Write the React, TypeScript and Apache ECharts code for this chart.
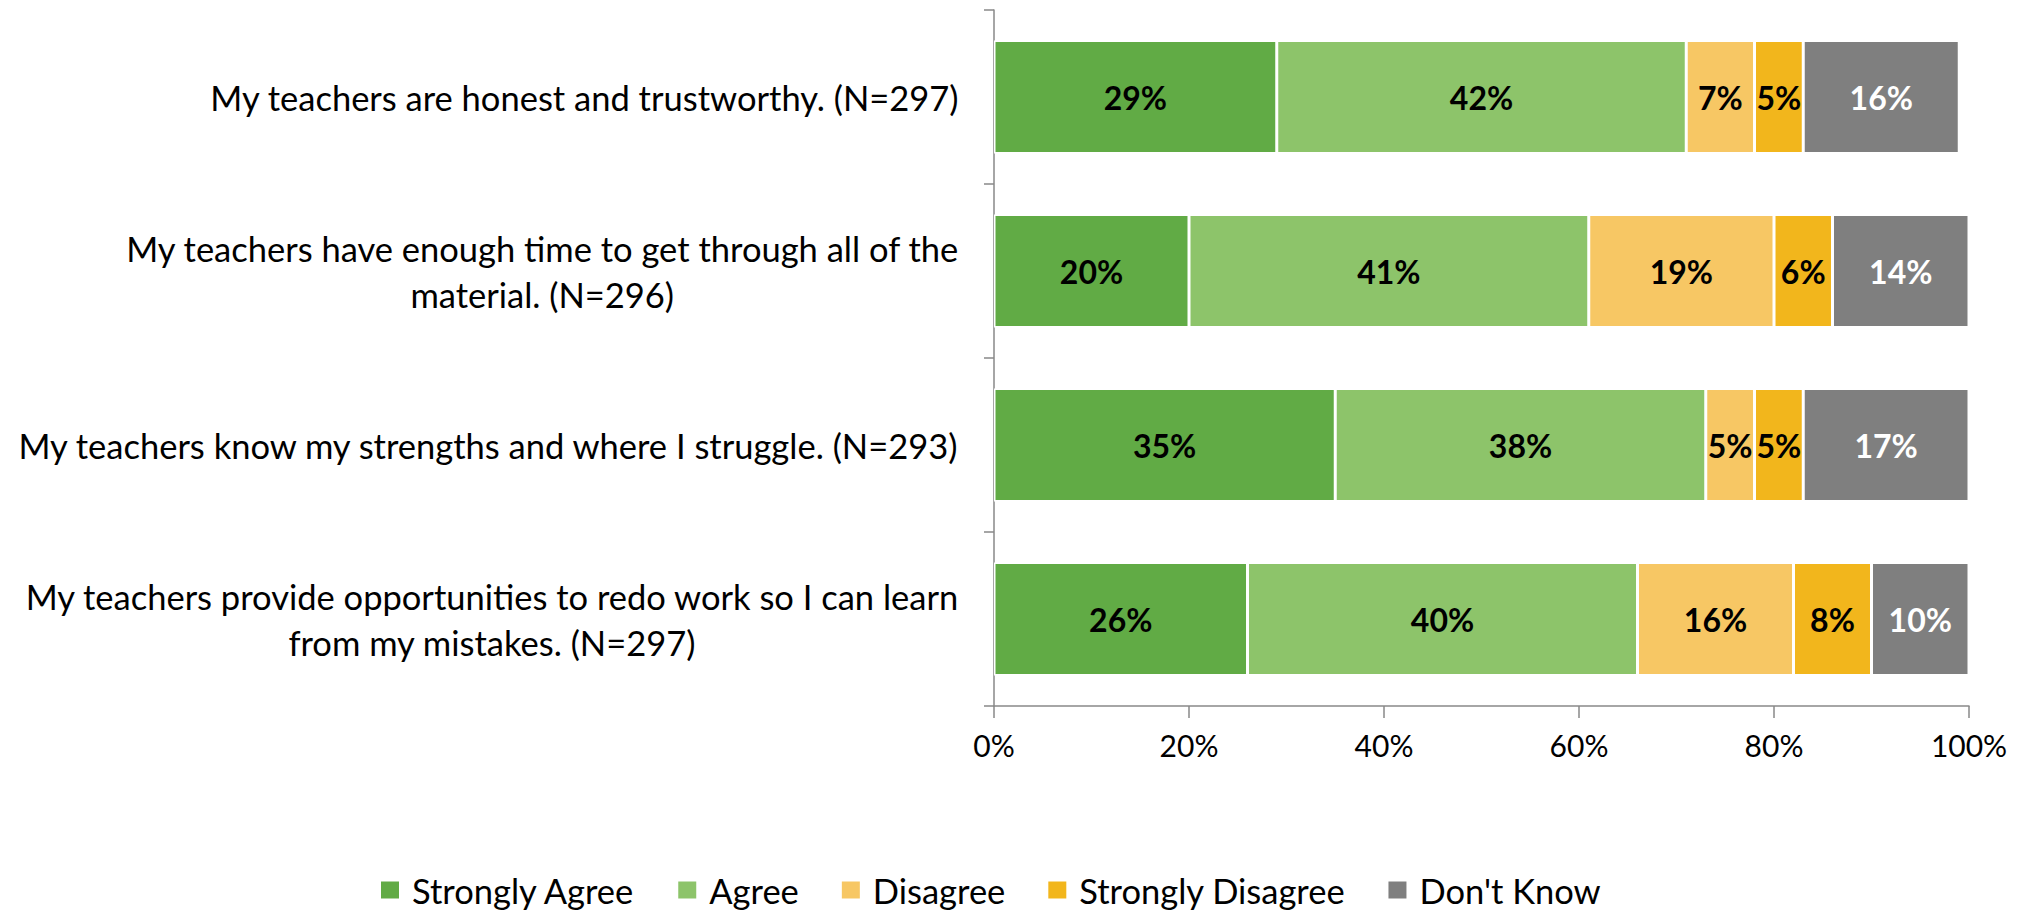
import React, { useEffect, useRef } from "react";
import * as echarts from "echarts";

const categories = [
  "My teachers are honest and trustworthy. (N=297)",
  "My teachers have enough time to get through all of the\nmaterial. (N=296)",
  "My teachers know my strengths and where I struggle. (N=293)",
  "My teachers provide opportunities to redo work so I can learn\nfrom my mistakes. (N=297)",
];
const seriesNames = ["Strongly Agree", "Agree", "Disagree", "Strongly Disagree", "Don't Know"];
const stronglyAgree = [29, 20, 35, 26];
const agree = [42, 41, 38, 40];
const disagree = [7, 19, 5, 16];
const stronglyDisagree = [5, 6, 5, 8];
const dontKnow = [16, 14, 17, 10];
const seriesColors = ["#61AB45", "#8DC46A", "#F7C764", "#F2B61C", "#7F7F7F"];
const labelColors = ["#000000", "#000000", "#000000", "#000000", "#FFFFFF"];

const FONT = "Lato";
const CAT_FS = 34.5;
const TICK_FS = 30;
const LEG_FS = 34.5;
const DATA_FS = 32;

export default function App() {
  const ref = useRef<HTMLDivElement>(null);
  useEffect(() => {
    document.body.style.margin = "0";
    const chart = echarts.init(ref.current!, null, { renderer: "svg" });
    const values = [stronglyAgree, agree, disagree, stronglyDisagree, dontKnow];
    const axisColor = "#898989";
    chart.setOption({
      animation: false,
      backgroundColor: "#ffffff",
      textStyle: { fontFamily: FONT },
      grid: { left: 994, right: 61, top: 10, bottom: 204, containLabel: false },
      legend: {
        top: 872,
        left: 379,
        padding: 0,
        icon: "rect",
        itemWidth: 20,
        itemHeight: 19,
        itemGap: 41,
        textStyle: {
          fontFamily: FONT,
          fontSize: LEG_FS,
          color: "#000",
          lineHeight: 36,
          padding: [0, 0, 0, 7],
        },
        data: seriesNames,
      },
      xAxis: {
        type: "value",
        min: 0,
        max: 100,
        interval: 20,
        axisLine: { show: true, lineStyle: { color: axisColor, width: 1.5 } },
        axisTick: { show: true, length: 12, lineStyle: { color: axisColor, width: 1.5 } },
        splitLine: { show: false },
        axisLabel: {
          formatter: "{value}%",
          margin: 24,
          fontFamily: FONT,
          fontSize: TICK_FS,
          color: "#000",
        },
      },
      yAxis: {
        type: "category",
        inverse: true,
        data: categories,
        axisLine: { show: true, lineStyle: { color: axisColor, width: 1.5 } },
        axisTick: { show: true, length: 10, lineStyle: { color: axisColor, width: 1.5 } },
        axisLabel: {
          margin: 35,
          align: "right",
          fontFamily: FONT,
          fontSize: CAT_FS,
          color: "#000",
          lineHeight: 46,
          formatter: (v: string) =>
            v
              .split("\n")
              .map((l) => `{c|${l}}`)
              .join("\n"),
          rich: {
            c: { align: "center", fontFamily: FONT, fontSize: CAT_FS, color: "#000", lineHeight: 46 },
          },
        },
      },
      series: seriesNames.map((name, i) => ({
        name,
        type: "bar",
        stack: "total",
        barWidth: "65%",
        data: values[i],
        itemStyle: { color: seriesColors[i], borderColor: "#ffffff", borderWidth: 1.5 },
        label: {
          show: true,
          position: "inside",
          formatter: "{c}%",
          fontFamily: FONT,
          fontWeight: "bold",
          fontSize: DATA_FS,
          color: labelColors[i],
        },
      })),
    });
    return () => chart.dispose();
  }, []);
  return <div ref={ref} style={{ position: "fixed", left: 0, top: 0, width: 2030, height: 910 }} />;
}
